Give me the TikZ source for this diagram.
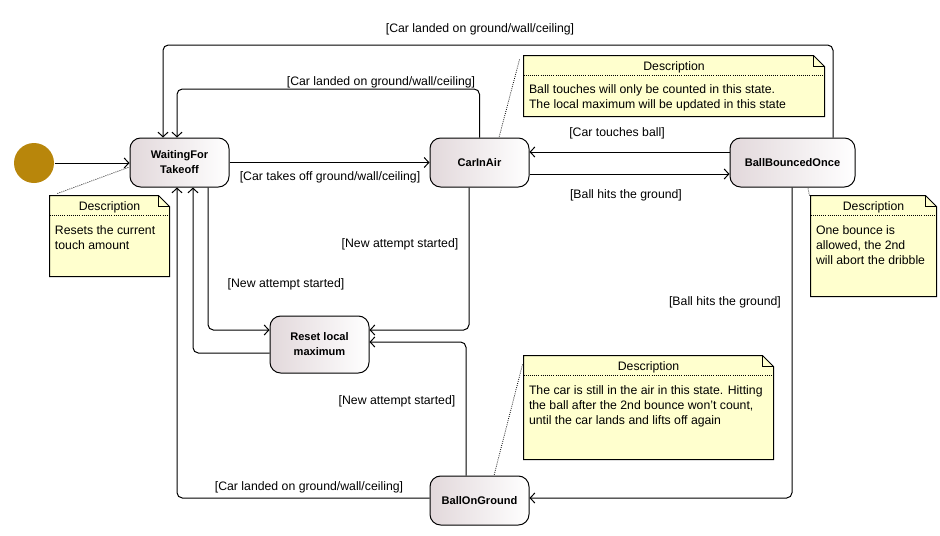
\documentclass[tikz,border=0pt]{standalone}
\usepackage{fontspec}
\setmainfont{Liberation Sans}
\usetikzlibrary{arrows.meta,calc}
\definecolor{initc}{RGB}{184,134,11}
\definecolor{notec}{RGB}{255,255,206}
\definecolor{statel}{RGB}{226,216,219}
\newcommand{\drawnote}[1]{%
  \draw[fill=notec] (#1.south west) -- (#1.north west) -- ([xshift=-8.25pt]#1.north east)
     -- ([yshift=-8.25pt]#1.north east) -- (#1.south east) -- cycle;
  \draw ([xshift=-8.25pt]#1.north east) |- ([yshift=-8.25pt]#1.north east);
  \draw[densely dotted, line width=0.6pt] ([yshift=-15pt]#1.north west) -- ([yshift=-15pt]#1.north east);
  \node[lbl] (#1t) at ([yshift=-7.5pt]#1.north) {Description};
}
\begin{document}
\begin{tikzpicture}[x=0.75pt,y=-0.75pt, line width=0.75pt,
  state/.style={draw, rounded corners=8pt, left color=statel, right color=white,
    font=\bfseries\fontsize{8.3}{11.25}\selectfont, align=center, inner sep=0pt},
  tr/.style={-{Straight Barb[length=3.5pt,width=7.5pt]}, rounded corners=4pt},
  lbl/.style={font=\fontsize{9.2}{11.25}\selectfont, inner sep=0pt, yshift=-1.2pt},
  notebox/.style={inner sep=0pt, draw=none},
  body/.style={lbl, align=left, anchor=north west},
  link/.style={densely dotted, line width=0.6pt}]
\fill[white] (0,0) rectangle (940,536);
\useasboundingbox (0,0) rectangle (940,536);

% states
\node[circle, fill=initc, inner sep=0pt, minimum size=30pt] (init) at (34,163) {};
\node[state, minimum width=74.25pt, minimum height=36.75pt] (wait) at (179.5,162.5) {WaitingFor\\Takeoff};
\node[state, minimum width=74.25pt, minimum height=36.75pt] (car) at (479.5,162.5) {CarInAir};
\node[state, minimum width=93.75pt, minimum height=36.75pt] (bbo) at (792.5,162.5) {BallBouncedOnce};
\node[state, minimum width=74.25pt, minimum height=42.75pt] (reset) at (319.5,344.5) {Reset local\\maximum};
\node[state, minimum width=74.25pt, minimum height=36.75pt] (bog) at (479.5,500.5) {BallOnGround};

% notes
\node[notebox, minimum width=89.25pt, minimum height=60pt] (n1) at (109.5,236) {};
\drawnote{n1}
\node[body] (n1b) at ($(n1.north west)+(5,28)$) {Resets the current\\touch amount};
\node[notebox, minimum width=225pt, minimum height=45pt] (n2) at (674,86) {};
\drawnote{n2}
\node[body] (n2b) at ($(n2.north west)+(5,27)$) {Ball touches will only be counted in this state.\\The local maximum will be updated in this state};
\node[notebox, minimum width=93.75pt, minimum height=75pt] (n3) at (873.5,246) {};
\drawnote{n3}
\node[body] (n3b) at ($(n3.north west)+(5,28)$) {One bounce is\\allowed, the 2nd\\will abort the dribble};
\node[notebox, minimum width=186.75pt, minimum height=77.25pt] (n4) at (648.5,407.5) {};
\drawnote{n4}
\node[body] (n4b) at ($(n4.north west)+(5,28)$) {The car is still in the air in this state. Hitting\\the ball after the 2nd bounce won't count,\\until the car lands and lifts off again};

% note links
\draw[link] ($(n1.north west)+(8,-2)$) -- ($(wait.west)+(0,4.5)$);
\draw[link] ($(n2.north west)+(-4,4)$) -- ($(car.north)+(19.5,0)$);
\draw[link] ($(bbo.south)+(15.5,1)$) -- ($(n3.north west)+(-1,0)$);
\draw[link] ($(n4.north west)+(-1,9)$) -- ($(bog.north)+(14.5,0)$);

% routing coordinates
\coordinate (xA) at (163,45);
\coordinate (xB) at (177,89);
\coordinate (bboOut) at (833,0);
\coordinate (yT) at (0,152);
\coordinate (yH) at (0,174);
\coordinate (cR) at (469,330);
\coordinate (wR) at (208,330);
\coordinate (rW) at (193,353);
\coordinate (gW) at (177,498);
\coordinate (gR) at (466,342);
\coordinate (bG) at (792,498);

% transitions
\draw[tr] (init.east) -- (init.east -| wait.west);
\draw[tr] (wait.east) -- (car.west)
  node[lbl] (l1) at (330,176) {[Car takes off ground/wall/ceiling]};
\draw[tr] (car.north) |- (xB) -- (xB |- wait.north)
  node[lbl] (l2) at (381,81) {[Car landed on ground/wall/ceiling]};
\draw[tr] (bbo.north -| bboOut) |- (xA) -- (xA |- wait.north)
  node[lbl] (l3) at (480,28) {[Car landed on ground/wall/ceiling]};
\draw[tr] (bbo.west |- yT) -- (car.east |- yT)
  node[lbl] (l4) at (617,132) {[Car touches ball]};
\draw[tr] (car.east |- yH) -- (bbo.west |- yH)
  node[lbl] (l5) at (626,194) {[Ball hits the ground]};
\draw[tr] (car.south -| cR) |- (reset.east |- cR)
  node[lbl] (l6) at (400,243) {[New attempt started]};
\draw[tr] (wait.south -| wR) |- (reset.west |- wR)
  node[lbl] (l7) at (286,283) {[New attempt started]};
\draw[tr] (reset.west |- rW) -| (wait.south -| rW);
\draw[tr] (bog.west |- gW) -| (wait.south -| gW)
  node[lbl] (l8) at (309,486) {[Car landed on ground/wall/ceiling]};
\draw[tr] (bog.north -| gR) |- (reset.east |- gR)
  node[lbl] (l9) at (397,400) {[New attempt started]};
\draw[tr] (bbo.south -| bG) |- (bog.east |- bG)
  node[lbl] (l10) at (725,301) {[Ball hits the ground]};
\end{tikzpicture}
\end{document}
